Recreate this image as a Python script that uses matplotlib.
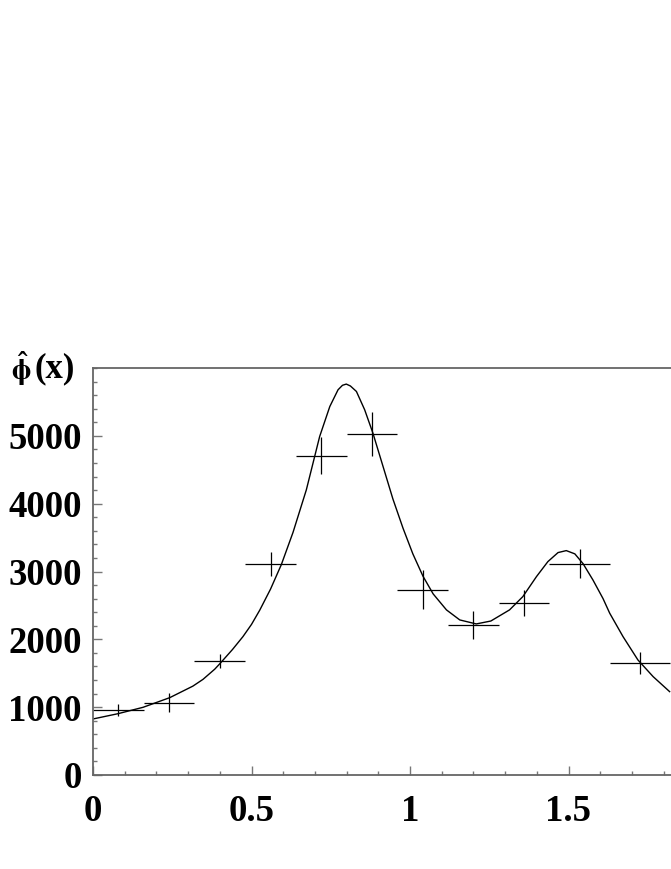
import numpy as np
import matplotlib.pyplot as plt
from matplotlib.ticker import MultipleLocator

# histogram points (bin edges, content, error)
bin_lo = [0.0, 0.16, 0.32, 0.48, 0.64, 0.80, 0.96, 1.12, 1.28, 1.44, 1.63]
bin_hi = [0.16, 0.32, 0.48, 0.64, 0.80, 0.96, 1.12, 1.28, 1.44, 1.63, 1.82]
counts = [960, 1067, 1677, 3110, 4710, 5030, 2733, 2217, 2532, 3117, 1652]
errors = [85, 135, 105, 182, 270, 320, 290, 207, 195, 214, 163]

# fitted curve
fit_x = [0.0, 0.079, 0.158, 0.242, 0.315, 0.347, 0.384, 0.400, 0.440, 0.473,
         0.500, 0.526, 0.560, 0.594, 0.631, 0.673, 0.715, 0.747, 0.773, 0.787,
         0.799, 0.812, 0.831, 0.857, 0.883, 0.915, 0.946, 0.978, 1.009, 1.041,
         1.073, 1.115, 1.157, 1.209, 1.255, 1.314, 1.356, 1.399, 1.435, 1.467,
         1.493, 1.520, 1.546, 1.577, 1.609, 1.630, 1.672, 1.719, 1.767, 1.819]
fit_y = [826, 904, 998, 1140, 1310, 1410, 1560, 1640, 1850, 2040,
         2220, 2430, 2740, 3100, 3577, 4204, 4990, 5432, 5679, 5745,
         5763, 5735, 5654, 5384, 5040, 4548, 4070, 3638, 3260, 2930,
         2670, 2434, 2286, 2227, 2270, 2434, 2630, 2925, 3146, 3279,
         3308, 3260, 3115, 2876, 2600, 2385, 2040, 1696, 1450, 1229]

xticks = [0, 0.5, 1, 1.5]
xtick_labels = ['0', '0.5', '1', '1.5']
yticks = [0, 1000, 2000, 3000, 4000, 5000]

plt.rcParams['font.family'] = 'Liberation Serif'
plt.rcParams['font.weight'] = 'bold'
plt.rcParams['mathtext.fontset'] = 'stix'

W, H = 671, 869
fig = plt.figure(figsize=(W / 100, H / 100), dpi=100)
ax = fig.add_axes([93 / W, (H - 775) / H, 634 / W, 407 / H])

centers = [(a + b) / 2 for a, b in zip(bin_lo, bin_hi)]
half = [(b - a) / 2 for a, b in zip(bin_lo, bin_hi)]
ax.errorbar(centers, counts, xerr=half, yerr=errors, fmt='none',
            ecolor='black', elinewidth=0.9, capsize=0)
ax.plot(fit_x, fit_y, color='black', lw=1.0)

ax.set_xlim(0, 2)
ax.set_ylim(0, 6000)
ax.set_xticks(xticks)
ax.set_xticklabels(xtick_labels)
ax.set_yticks(yticks)
ax.xaxis.set_minor_locator(MultipleLocator(0.1))
ax.yaxis.set_minor_locator(MultipleLocator(200))
ax.tick_params(which='both', direction='in', color='#777777', width=1.0,
               labelsize=26.5, top=False, right=False)
ax.tick_params(which='major', length=6.7)
ax.tick_params(which='minor', length=3.0)
ax.tick_params(axis='x', pad=14)
ax.tick_params(axis='y', pad=8)
for lab in ax.get_xticklabels() + ax.get_yticklabels():
    lab.set_fontweight('bold')
for s in ax.spines.values():
    s.set_color('#666666')
    s.set_linewidth(1.3)

# axis title at top left
fig.text(21.5 / W, 1 - 369 / H, r'$\hat{\mathrm{\phi}}$', fontsize=21,
         ha='center', va='center', fontweight='normal')
fig.text(35 / W, 1 - 369 / H, '(x)', fontsize=25, ha='left', va='center',
         fontweight='bold')

fig.savefig('out.png', dpi=100)
